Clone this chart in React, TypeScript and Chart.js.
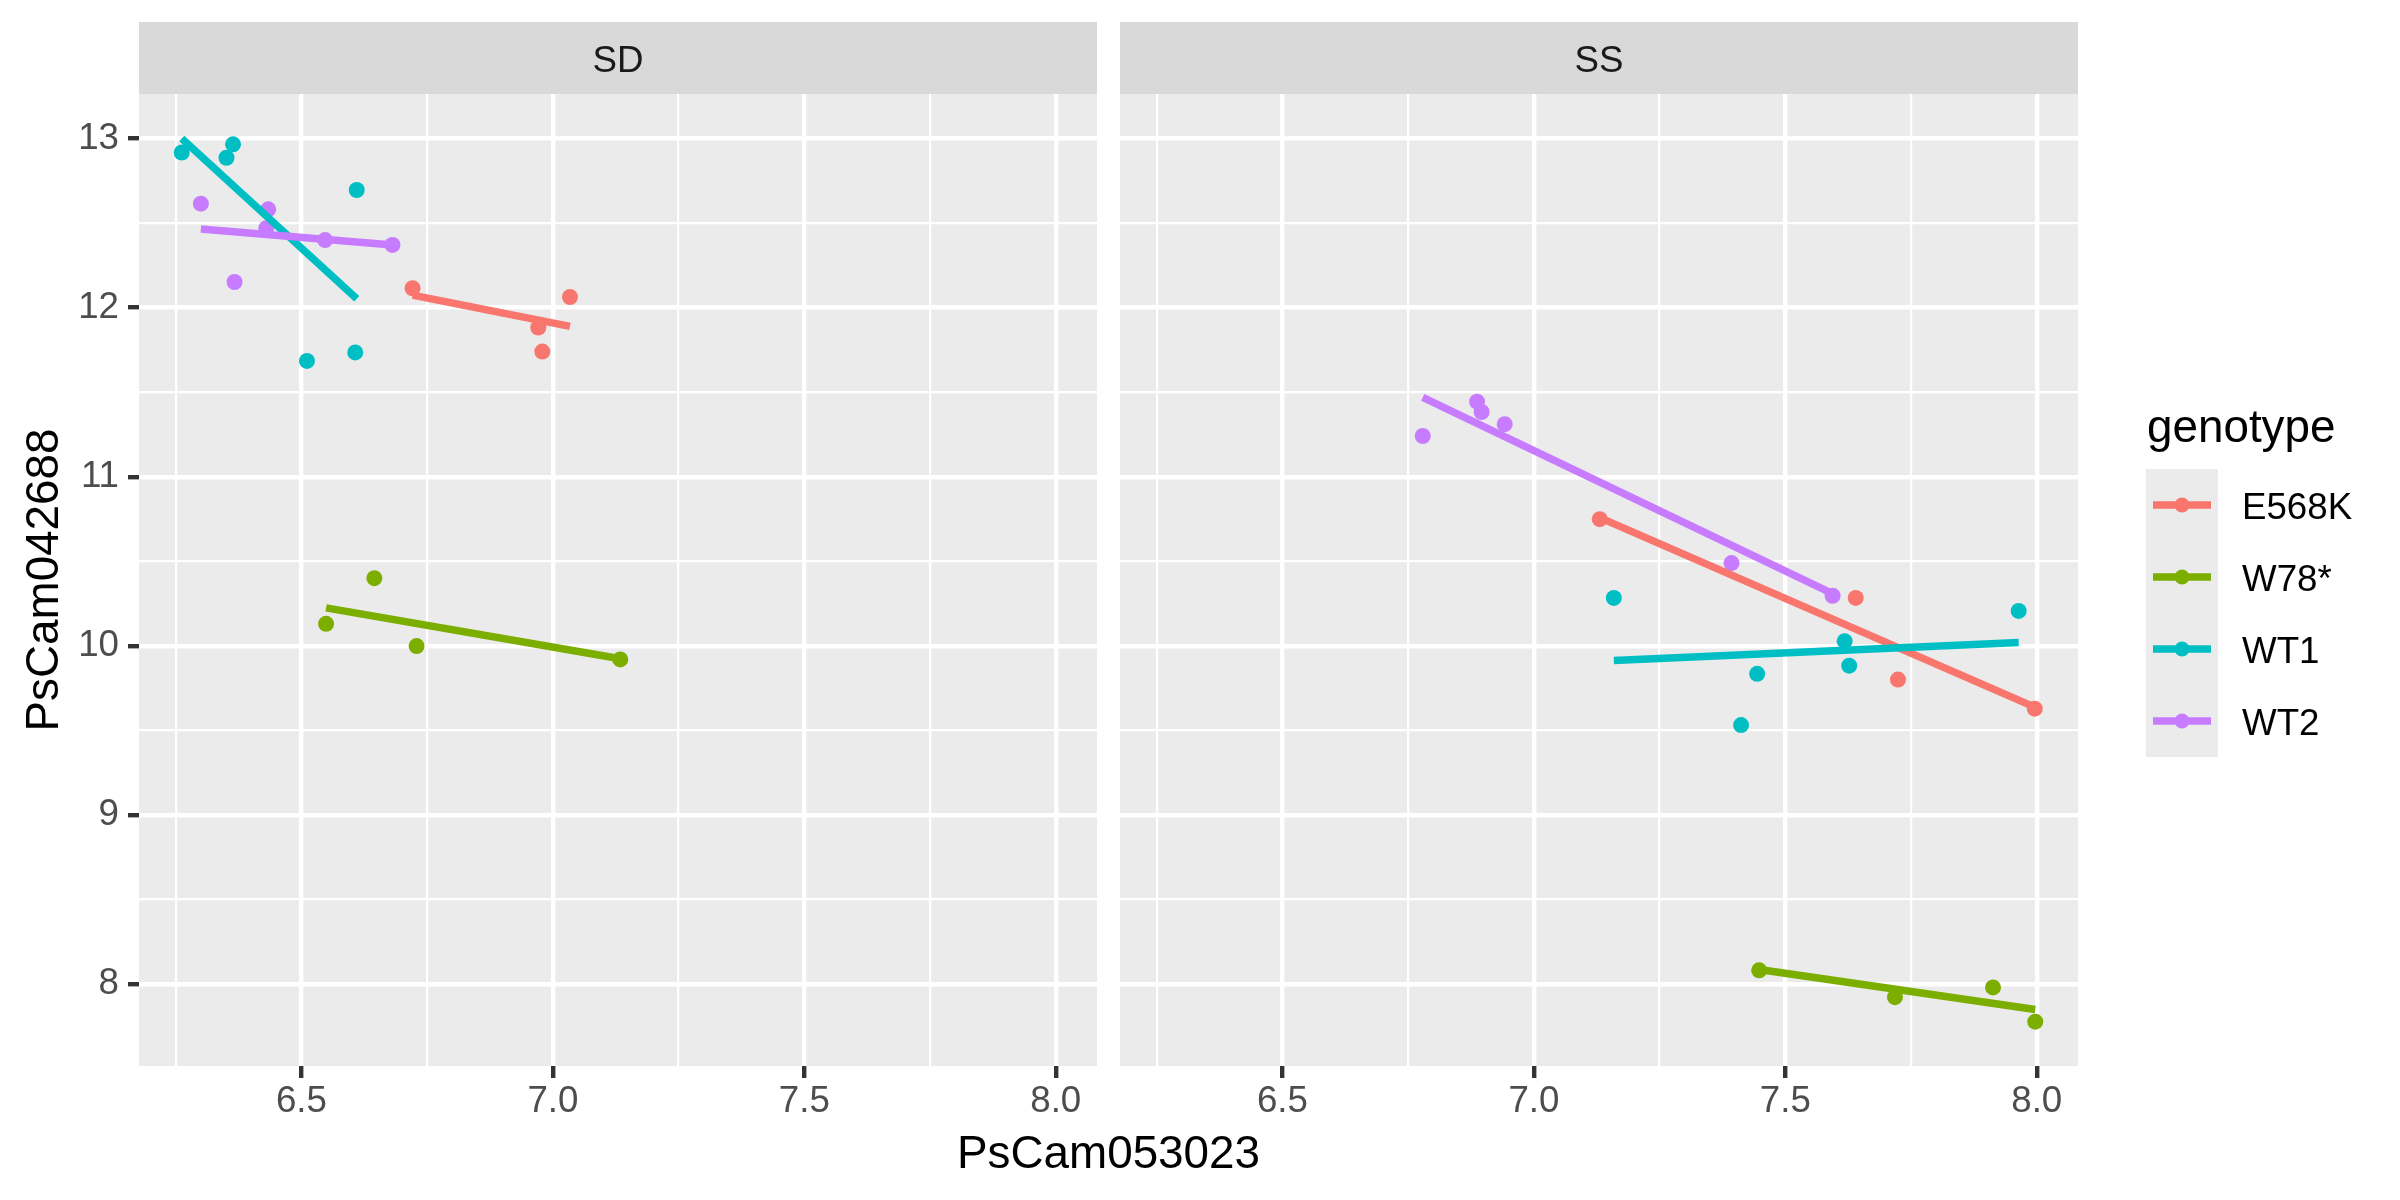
import React, { useEffect, useRef } from 'react';
import { Chart, registerables } from 'chart.js';

Chart.register(...registerables);

// ---------- data ----------
const GENOTYPES = ['E568K', 'W78*', 'WT1', 'WT2'];
const COLORS = ['#F8766D', '#7CAE00', '#00BFC4', '#C77CFF'];
const PANELS = ['SD', 'SS'];

// SD panel
const SD_E568K_X = [6.721, 6.971, 6.979, 7.034];
const SD_E568K_Y = [12.115, 11.882, 11.74, 12.063];
const SD_E568K_FIT = [12.074, 11.889];
const SD_W78_X = [6.549, 6.645, 6.729, 7.134];
const SD_W78_Y = [10.13, 10.4, 9.998, 9.919];
const SD_W78_FIT = [10.224, 9.923];
const SD_WT1_X = [6.262, 6.351, 6.364, 6.511, 6.607, 6.61];
const SD_WT1_Y = [12.918, 12.887, 12.966, 11.685, 11.735, 12.696];
const SD_WT1_FIT = [13.001, 12.053];
const SD_WT2_X = [6.3, 6.367, 6.434, 6.43, 6.547, 6.681];
const SD_WT2_Y = [12.615, 12.152, 12.582, 12.47, 12.4, 12.371];
const SD_WT2_FIT = [12.466, 12.371];

// SS panel
const SS_E568K_X = [7.131, 7.64, 7.724, 7.996];
const SS_E568K_Y = [10.749, 10.283, 9.8, 9.628];
const SS_E568K_FIT = [10.758, 9.637];
const SS_W78_X = [7.448, 7.718, 7.913, 7.997];
const SS_W78_Y = [8.08, 7.921, 7.979, 7.776];
const SS_W78_FIT = [8.085, 7.848];
const SS_WT1_X = [7.159, 7.412, 7.444, 7.618, 7.627, 7.964];
const SS_WT1_Y = [10.283, 9.531, 9.834, 10.027, 9.882, 10.206];
const SS_WT1_FIT = [9.913, 10.019];
const SS_WT2_X = [6.779, 6.887, 6.896, 6.942, 7.393, 7.594];
const SS_WT2_Y = [11.241, 11.444, 11.383, 11.311, 10.489, 10.296];
const SS_WT2_FIT = [11.47, 10.309];

const X_MAJOR = [6.5, 7.0, 7.5, 8.0];
const X_TICK_LABELS = ['6.5', '7.0', '7.5', '8.0'];
const X_MINOR = [6.25, 6.75, 7.25, 7.75];
const Y_MAJOR = [8, 9, 10, 11, 12, 13];
const Y_TICK_LABELS = ['8', '9', '10', '11', '12', '13'];
const Y_MINOR = [8.5, 9.5, 10.5, 11.5, 12.5];

const X_RANGE = [6.177, 8.082];
const Y_RANGE = [7.514, 13.264];

const X_TITLE = 'PsCam053023';
const Y_TITLE = 'PsCam042688';
const LEGEND_TITLE = 'genotype';

// tables built from the arrays above
const PANEL_X = [
  [SD_E568K_X, SD_W78_X, SD_WT1_X, SD_WT2_X],
  [SS_E568K_X, SS_W78_X, SS_WT1_X, SS_WT2_X],
];
const PANEL_Y = [
  [SD_E568K_Y, SD_W78_Y, SD_WT1_Y, SD_WT2_Y],
  [SS_E568K_Y, SS_W78_Y, SS_WT1_Y, SS_WT2_Y],
];
const PANEL_FIT = [
  [SD_E568K_FIT, SD_W78_FIT, SD_WT1_FIT, SD_WT2_FIT],
  [SS_E568K_FIT, SS_W78_FIT, SS_WT1_FIT, SS_WT2_FIT],
];

// ---------- style / layout ----------
const FONT = '"Liberation Sans", Arial, sans-serif';
const W = 2400;
const H = 1200;
const PANEL_LEFT = [139, 1120];
const PANEL_RIGHT = [1097, 2078];
const PANEL_TOP = 94;
const PANEL_BOTTOM = 1066;
const STRIP_TOP = 22;
const AXIS_H = 60;

const near = (a: number, b: number) => Math.abs(a - b) < 1e-6;
const isMajorX = (v: number) => X_MAJOR.some((m) => near(m, v));
const isMajorY = (v: number) => Y_MAJOR.some((m) => near(m, v));

function buildDatasets(p: number) {
  const ds: any[] = [];
  GENOTYPES.forEach((g, i) => {
    const xs = PANEL_X[p][i];
    const ys = PANEL_Y[p][i];
    const fit = PANEL_FIT[p][i];
    ds.push({
      label: g + ' points',
      data: xs.map((x, k) => ({ x, y: ys[k] })),
      backgroundColor: COLORS[i],
      borderWidth: 0,
      pointRadius: 8,
      pointHoverRadius: 8,
      order: 10 - i,
    });
    ds.push({
      label: g + ' fit',
      data: [
        { x: Math.min(...xs), y: fit[0] },
        { x: Math.max(...xs), y: fit[1] },
      ],
      showLine: true,
      borderColor: COLORS[i],
      borderWidth: 7.5,
      borderCapStyle: 'butt',
      pointRadius: 0,
      pointHoverRadius: 0,
      order: 4 - i,
    });
  });
  return ds;
}

function panelPlugin(p: number) {
  return {
    id: 'panelDeco' + p,
    beforeDraw(chart: any) {
      const { ctx, chartArea } = chart;
      ctx.save();
      ctx.fillStyle = '#EBEBEB';
      ctx.fillRect(chartArea.left, chartArea.top, chartArea.right - chartArea.left, chartArea.bottom - chartArea.top);
      ctx.fillStyle = '#D9D9D9';
      ctx.fillRect(chartArea.left, STRIP_TOP, chartArea.right - chartArea.left, chartArea.top - STRIP_TOP);
      ctx.fillStyle = '#1A1A1A';
      ctx.font = `36.7px ${FONT}`;
      ctx.textAlign = 'center';
      ctx.textBaseline = 'alphabetic';
      ctx.fillText(PANELS[p], (chartArea.left + chartArea.right) / 2, 72);
      ctx.restore();
    },
    afterDraw(chart: any) {
      const { ctx } = chart;
      ctx.save();
      ctx.fillStyle = '#000000';
      if (p === 0) {
        ctx.font = `45.8px ${FONT}`;
        ctx.translate(58, (PANEL_TOP + PANEL_BOTTOM) / 2);
        ctx.rotate(-Math.PI / 2);
        ctx.textAlign = 'center';
        ctx.textBaseline = 'alphabetic';
        ctx.fillText(Y_TITLE, 0, 0);
      } else {
        ctx.font = `45.8px ${FONT}`;
        ctx.textAlign = 'center';
        ctx.textBaseline = 'alphabetic';
        ctx.fillText(X_TITLE, (PANEL_LEFT[0] + PANEL_RIGHT[1]) / 2, 1168);
        // legend
        ctx.textAlign = 'left';
        ctx.fillText(LEGEND_TITLE, 2147, 442);
        const keyLeft = 2146;
        const keyTop = 469;
        const keySize = 72;
        ctx.fillStyle = '#EBEBEB';
        ctx.fillRect(keyLeft, keyTop, keySize, keySize * GENOTYPES.length);
        GENOTYPES.forEach((g, i) => {
          const cy = keyTop + keySize / 2 + keySize * i;
          ctx.strokeStyle = COLORS[i];
          ctx.lineWidth = 7.5;
          ctx.lineCap = 'butt';
          ctx.beginPath();
          ctx.moveTo(keyLeft + 7, cy);
          ctx.lineTo(keyLeft + keySize - 7, cy);
          ctx.stroke();
          ctx.fillStyle = COLORS[i];
          ctx.beginPath();
          ctx.arc(keyLeft + keySize / 2, cy, 7.5, 0, Math.PI * 2);
          ctx.fill();
          ctx.fillStyle = '#000000';
          ctx.font = `36.7px ${FONT}`;
          ctx.textBaseline = 'alphabetic';
          ctx.fillText(g, 2242, cy + 14);
        });
      }
      ctx.restore();
    },
  };
}

function makeConfig(p: number): any {
  const tickFont = { family: FONT, size: 36.7 };
  return {
    type: 'scatter',
    data: { datasets: buildDatasets(p) },
    plugins: [panelPlugin(p)],
    options: {
      animation: false,
      responsive: false,
      devicePixelRatio: 1,
      events: [],
      layout: {
        padding: {
          left: p === 0 ? 0 : PANEL_LEFT[1],
          right: W - PANEL_RIGHT[p],
          top: PANEL_TOP,
          bottom: H - PANEL_BOTTOM - AXIS_H,
        },
      },
      plugins: { legend: { display: false }, tooltip: { enabled: false } },
      scales: {
        x: {
          type: 'linear',
          position: 'bottom',
          min: X_RANGE[0],
          max: X_RANGE[1],
          afterBuildTicks: (s: any) => {
            s.ticks = [...X_MAJOR, ...X_MINOR].sort((a, b) => a - b).map((v) => ({ value: v }));
          },
          afterFit: (s: any) => {
            s.height = AXIS_H;
          },
          ticks: {
            autoSkip: false,
            maxRotation: 0,
            minRotation: 0,
            font: tickFont,
            color: '#4D4D4D',
            padding: 2,
            callback: (v: number) => {
              const k = X_MAJOR.findIndex((m) => near(m, v));
              return k >= 0 ? X_TICK_LABELS[k] : '';
            },
          },
          grid: {
            color: '#FFFFFF',
            lineWidth: (c: any) => (c.tick && isMajorX(c.tick.value) ? 4.4 : 2.2),
            drawTicks: true,
            tickLength: 12,
            tickColor: (c: any) => (c.tick && isMajorX(c.tick.value) ? '#333333' : 'rgba(0,0,0,0)'),
            tickWidth: 4.4,
          },
          border: { display: false },
        },
        y: {
          type: 'linear',
          position: 'left',
          min: Y_RANGE[0],
          max: Y_RANGE[1],
          afterBuildTicks: (s: any) => {
            s.ticks = [...Y_MAJOR, ...Y_MINOR].sort((a, b) => a - b).map((v) => ({ value: v }));
          },
          afterFit: (s: any) => {
            s.width = p === 0 ? PANEL_LEFT[0] : 0;
          },
          ticks: {
            display: p === 0,
            autoSkip: false,
            font: tickFont,
            color: '#4D4D4D',
            padding: 9,
            callback: (v: number) => {
              const k = Y_MAJOR.findIndex((m) => near(m, v));
              return k >= 0 ? Y_TICK_LABELS[k] : '';
            },
          },
          grid: {
            color: '#FFFFFF',
            lineWidth: (c: any) => (c.tick && isMajorY(c.tick.value) ? 4.4 : 2.2),
            drawTicks: p === 0,
            tickLength: 11,
            tickColor: (c: any) => (c.tick && isMajorY(c.tick.value) ? '#333333' : 'rgba(0,0,0,0)'),
            tickWidth: 4.4,
          },
          border: { display: false },
        },
      },
    },
  };
}

export default function App() {
  const refA = useRef<HTMLCanvasElement | null>(null);
  const refB = useRef<HTMLCanvasElement | null>(null);

  useEffect(() => {
    document.body.style.margin = '0';
    document.body.style.overflow = 'hidden';
    document.body.style.background = '#FFFFFF';
    const charts: Chart[] = [];
    if (refA.current) charts.push(new Chart(refA.current, makeConfig(0)));
    if (refB.current) charts.push(new Chart(refB.current, makeConfig(1)));
    return () => charts.forEach((c) => c.destroy());
  }, []);

  const style: React.CSSProperties = {
    position: 'absolute',
    left: 0,
    top: 0,
    width: W + 'px',
    height: H + 'px',
  };

  return (
    <div style={{ position: 'relative', width: W, height: H, background: '#FFFFFF', overflow: 'hidden' }}>
      <canvas ref={refA} width={W} height={H} style={style} />
      <canvas ref={refB} width={W} height={H} style={style} />
    </div>
  );
}
